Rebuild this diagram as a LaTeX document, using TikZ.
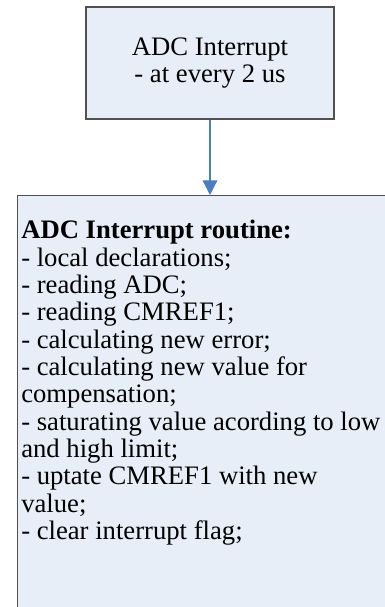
\documentclass[tikz,border=0pt]{standalone}
\usepackage{fontspec}
\setmainfont{Liberation Serif}
\usetikzlibrary{arrows.meta,positioning}
\definecolor{boxfill}{RGB}{232,238,247}
\definecolor{boxline}{RGB}{80,80,80}
\definecolor{flowblue}{RGB}{74,126,196}
\tikzset{
  procbox/.style={draw=boxline,line width=1.1pt,fill=boxfill},
  flow/.style={draw=flowblue,line width=0.9pt,-{Triangle[length=11pt,width=11pt]}},
  boxtext/.style={font=\fontsize{20pt}{20.5pt}\selectfont,inner sep=0pt}
}
\begin{document}
\begin{tikzpicture}[x=0.75pt,y=-0.75pt]
\useasboundingbox (0,0) rectangle (385,607);
\clip (0,0) rectangle (385,607);
% interrupt source
\node[procbox,boxtext,minimum width=186pt,minimum height=84pt,align=center] (adc) at (210,63) {ADC Interrupt\\- at every 2 us};
% routine body, runs past the page edge
\node[procbox,anchor=north west,minimum width=320pt,minimum height=340pt] (routine) at (17,195) {};
\node[boxtext,align=left,below right=18.75pt and 3pt of routine.north west] (routinetext) {\textbf{ADC Interrupt routine:}\\
- local declarations;\\
- reading ADC;\\
- reading CMREF1;\\
- calculating new error;\\
- calculating new value for\\
compensation;\\
- saturating value acording to low\\
and high limit;\\
- uptate CMREF1 with new\\
value;\\
- clear interrupt flag;};
\draw[flow] (adc) -- (adc |- routine.north);
\end{tikzpicture}
\end{document}
